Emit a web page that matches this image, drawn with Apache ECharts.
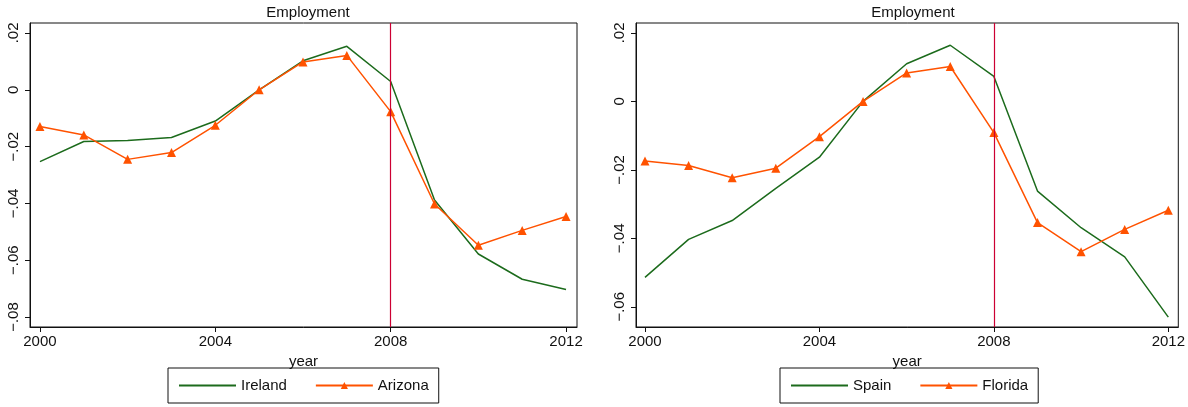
<!DOCTYPE html>
<html>
<head>
<meta charset="utf-8">
<script src="https://cdn.jsdelivr.net/npm/echarts@6/dist/echarts.min.js"></script>
<style>
  html, body { margin: 0; padding: 0; background: #fff; }
  #chart { width: 1188px; height: 407px; }
</style>
</head>
<body>
<div id="chart"></div>
<script>
// years on the x axis
const years = [2000, 2001, 2002, 2003, 2004, 2005, 2006, 2007, 2008, 2009, 2010, 2011, 2012]

// left panel
const ireland = [-0.0253, -0.0182, -0.0179, -0.0168, -0.0110, 0.0000, 0.0102, 0.0153, 0.0029, -0.0388, -0.0578, -0.0667, -0.0703]
const arizona = [-0.0129, -0.0159, -0.0245, -0.0221, -0.0125, 0.0000, 0.0098, 0.0121, -0.0077, -0.0402, -0.0547, -0.0495, -0.0446]

// right panel
const spain = [-0.0514, -0.0403, -0.0348, -0.0254, -0.0163, 0.0000, 0.0110, 0.0164, 0.0073, -0.0262, -0.0369, -0.0454, -0.0630]
const florida = [-0.0174, -0.0187, -0.0223, -0.0195, -0.0103, 0.0000, 0.0083, 0.0102, -0.0091, -0.0354, -0.0439, -0.0374, -0.0318]

const xTicks = [2000, 2004, 2008, 2012]
const leftYTicks = [-0.08, -0.06, -0.04, -0.02, 0, 0.02]
const rightYTicks = [-0.06, -0.04, -0.02, 0, 0.02]
const crisisYear = 2008

const GREEN = '#1c6b1c'
const ORANGE = '#ff5200'
const RED = '#cc0033'
const FONT = 'Liberation Sans'

const chart = echarts.init(document.getElementById('chart'), null, { renderer: 'canvas' })

const pairs = (ys) => years.map((y, i) => [y, ys[i]])

const fmtY = (v) => {
  if (Math.abs(v) < 1e-9) return '0'
  const s = Math.abs(v).toFixed(2).replace(/^0/, '')
  return (v < 0 ? '\u2212' : '') + s
}

const makeX = (gridIndex, min, max) => ({
  type: 'value',
  gridIndex,
  min,
  max,
  name: 'year',
  nameLocation: 'middle',
  nameGap: 23,
  nameTextStyle: { color: '#111', fontFamily: FONT, fontSize: 15 },
  axisLine: { show: true, onZero: false, lineStyle: { color: '#111' } },
  axisTick: { show: true, customValues: xTicks, length: 5, lineStyle: { color: '#111' } },
  axisLabel: {
    customValues: xTicks,
    color: '#111',
    fontFamily: FONT,
    fontSize: 15,
    margin: 7,
    formatter: (v) => String(v)
  },
  splitLine: { show: false }
})

const makeY = (gridIndex, min, max, ticks) => ({
  type: 'value',
  gridIndex,
  min,
  max,
  axisLine: { show: true, lineStyle: { color: '#111' } },
  axisTick: { show: true, customValues: ticks, length: 5, lineStyle: { color: '#111' } },
  axisLabel: {
    customValues: ticks,
    rotate: 90,
    color: '#111',
    fontFamily: FONT,
    fontSize: 15,
    margin: 9,
    formatter: fmtY
  },
  splitLine: { show: false }
})

const lineSeries = (name, data, xi, withMarker) => ({
  name,
  type: 'line',
  xAxisIndex: xi,
  yAxisIndex: xi,
  data: pairs(data),
  showSymbol: withMarker,
  symbol: withMarker ? 'triangle' : 'none',
  symbolSize: 9,
  lineStyle: { width: 1.5, color: withMarker ? ORANGE : GREEN },
  itemStyle: { color: withMarker ? ORANGE : GREEN },
  animation: false,
  z: withMarker ? 3 : 2
})

const crisisLine = {
  silent: true,
  symbol: 'none',
  label: { show: false },
  lineStyle: { color: RED, type: 'solid', width: 1.2 },
  data: [{ xAxis: crisisYear }]
}

const legendBase = {
  top: 368,
  itemWidth: 57,
  itemHeight: 9,
  itemGap: 28,
  padding: [10, 10, 10, 10],
  borderColor: '#111',
  borderWidth: 1,
  borderRadius: 0,
  textStyle: { fontSize: 15, color: '#111', fontFamily: FONT }
}

const option = {
  animation: false,
  textStyle: { fontFamily: FONT },
  title: [
    { text: 'Employment', left: 303, top: 0, textAlign: 'center', textStyle: { fontSize: 15, fontWeight: 'normal', color: '#111', fontFamily: FONT } },
    { text: 'Employment', left: 908, top: 0, textAlign: 'center', textStyle: { fontSize: 15, fontWeight: 'normal', color: '#111', fontFamily: FONT } }
  ],
  grid: [
    { left: 30, right: 611, top: 23, bottom: 80, show: true, borderColor: '#111', borderWidth: 1 },
    { left: 636, right: 8, top: 23, bottom: 80, show: true, borderColor: '#111', borderWidth: 1 }
  ],
  xAxis: [
    makeX(0, 1999.773, 2012.25),
    makeX(1, 1999.794, 2012.229)
  ],
  yAxis: [
    makeY(0, -0.0835, 0.0235, leftYTicks),
    makeY(1, -0.0659, 0.0229, rightYTicks)
  ],
  legend: [
    Object.assign({}, legendBase, {
      left: 168,
      data: [{ name: 'Ireland', itemStyle: { opacity: 0 } }, 'Arizona']
    }),
    Object.assign({}, legendBase, {
      left: 780,
      data: [{ name: 'Spain', itemStyle: { opacity: 0 } }, 'Florida']
    })
  ],
  series: [
    Object.assign(lineSeries('Ireland', ireland, 0, false), { markLine: crisisLine }),
    lineSeries('Arizona', arizona, 0, true),
    Object.assign(lineSeries('Spain', spain, 1, false), { markLine: crisisLine }),
    lineSeries('Florida', florida, 1, true)
  ]
}

chart.setOption(option)
window.addEventListener('resize', function () {
  chart.resize()
})
</script>
</body>
</html>
